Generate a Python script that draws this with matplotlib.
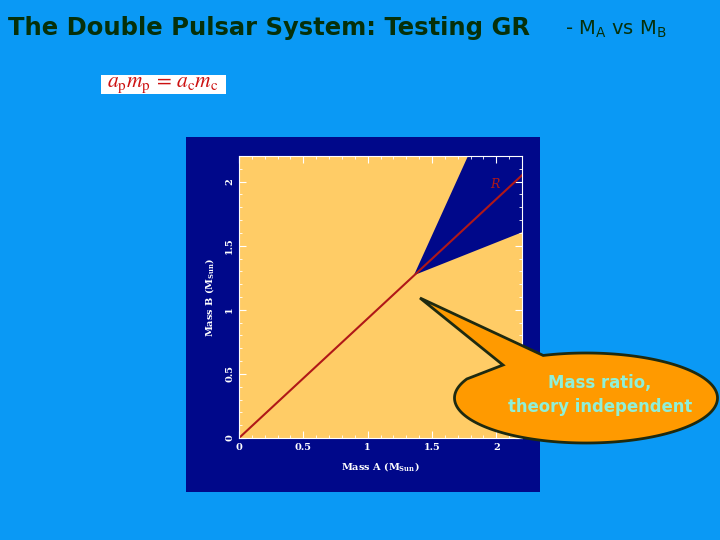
import matplotlib
matplotlib.use("Agg")
import matplotlib.pyplot as plt
from matplotlib.patches import Rectangle, Polygon
from matplotlib.ticker import MultipleLocator
import numpy as np

# slide text
title = "The Double Pulsar System: Testing GR"
subtitle = r"- M$_\mathregular{A}$ vs M$_\mathregular{B}$"
formula = r"$a_{\rm p}m_{\rm p}\,=\,a_{\rm c}m_{\rm c}$"
callout = "Mass ratio,\ntheory independent"

# chart data
x_ticks = [0, 0.5, 1, 1.5, 2]
x_tick_labels = ["0", "0.5", "1", "1.5", "2"]
y_ticks = [0, 0.5, 1, 1.5, 2]
y_tick_labels = ["0", "0.5", "1", "1.5", "2"]
ratio_a = [0.0, 2.2]          # mass ratio line R
ratio_b = [0.0, 2.05]
wedge_a = [1.36, 1.78, 2.2, 2.2]   # allowed (dark) region
wedge_b = [1.27, 2.2, 2.2, 1.605]
r_label_pos = (1.99, 1.98)

slide_bg = "#0A99F5"
navy = "#00088A"
light_orange = "#FFCC66"
red = "#B01818"

fig = plt.figure(figsize=(7.2, 5.4), dpi=100)
fig.patch.set_facecolor(slide_bg)

# full-figure overlay in pixel coords (y down)
bg = fig.add_axes([0, 0, 1, 1], zorder=0)
bg.set_xlim(0, 720)
bg.set_ylim(540, 0)
bg.axis("off")

bg.text(8, 28, title, fontsize=17.5, fontweight="bold", color="#06300A",
        ha="left", va="center", family="DejaVu Sans")
bg.text(565, 29, subtitle, fontsize=14, color="#06300A", ha="left", va="center")

bg.add_patch(Rectangle((101, 75), 125, 19, facecolor="white", edgecolor="none"))
bg.text(163, 85, formula, fontsize=15.5, color="#CC1010", ha="center", va="center",
        math_fontfamily="stix")

bg.add_patch(Rectangle((186, 137), 354, 355, facecolor=navy, edgecolor="none"))

# the chart
ax = fig.add_axes([239 / 720, 1 - 438 / 540, 283 / 720, 282 / 540], zorder=1)
ax.set_facecolor(light_orange)
ax.fill(wedge_a, wedge_b, color=navy, lw=0)
ax.plot(ratio_a, ratio_b, color=red, lw=1.5)
ax.text(*r_label_pos, "R", color=red, fontsize=9, style="italic",
        ha="center", va="center", family="DejaVu Serif")
ax.set_xlim(0, 2.2)
ax.set_ylim(0, 2.2)
ax.set_xticks(x_ticks)
ax.set_xticklabels(x_tick_labels)
ax.set_yticks(y_ticks)
ax.set_yticklabels(y_tick_labels, rotation=90, va="center")
ax.xaxis.set_minor_locator(MultipleLocator(0.1))
ax.yaxis.set_minor_locator(MultipleLocator(0.1))
ax.tick_params(which="both", direction="in", colors="white", top=True, right=True,
               labelsize=7)
ax.tick_params(which="major", length=5, width=0.8)
ax.tick_params(which="minor", length=2.5, width=0.6)
for lab in ax.get_xticklabels() + ax.get_yticklabels():
    lab.set_family("DejaVu Serif")
    lab.set_fontweight("bold")
for sp in ax.spines.values():
    sp.set_color("white")
    sp.set_linewidth(0.8)
ax.set_xlabel(r"Mass A (M$_\mathregular{Sun}$)", color="white", fontsize=7,
              fontweight="bold", family="DejaVu Serif", labelpad=6)
ax.set_ylabel(r"Mass B (M$_\mathregular{Sun}$)", color="white", fontsize=7,
              fontweight="bold", family="DejaVu Serif", labelpad=6)

# speech bubble on top
top = fig.add_axes([0, 0, 1, 1], zorder=2)
top.set_xlim(0, 720)
top.set_ylim(540, 0)
top.axis("off")
cx, cy, a, b = 586, 398, 131.5, 45
th = np.radians(np.linspace(251, 565, 200))
pts = list(zip(cx + a * np.cos(th), cy + b * np.sin(th)))
pts += [(503, 365), (420, 298)]
top.add_patch(Polygon(pts, closed=True, facecolor="#FF9A00", edgecolor="#1E2A10",
                      lw=2, joinstyle="miter"))
top.text(600, 395, callout, fontsize=11.9, color="#8FF0D8", ha="center",
         va="center", fontweight="bold", linespacing=1.4)

fig.savefig("out.png", dpi=100, facecolor=fig.get_facecolor())
